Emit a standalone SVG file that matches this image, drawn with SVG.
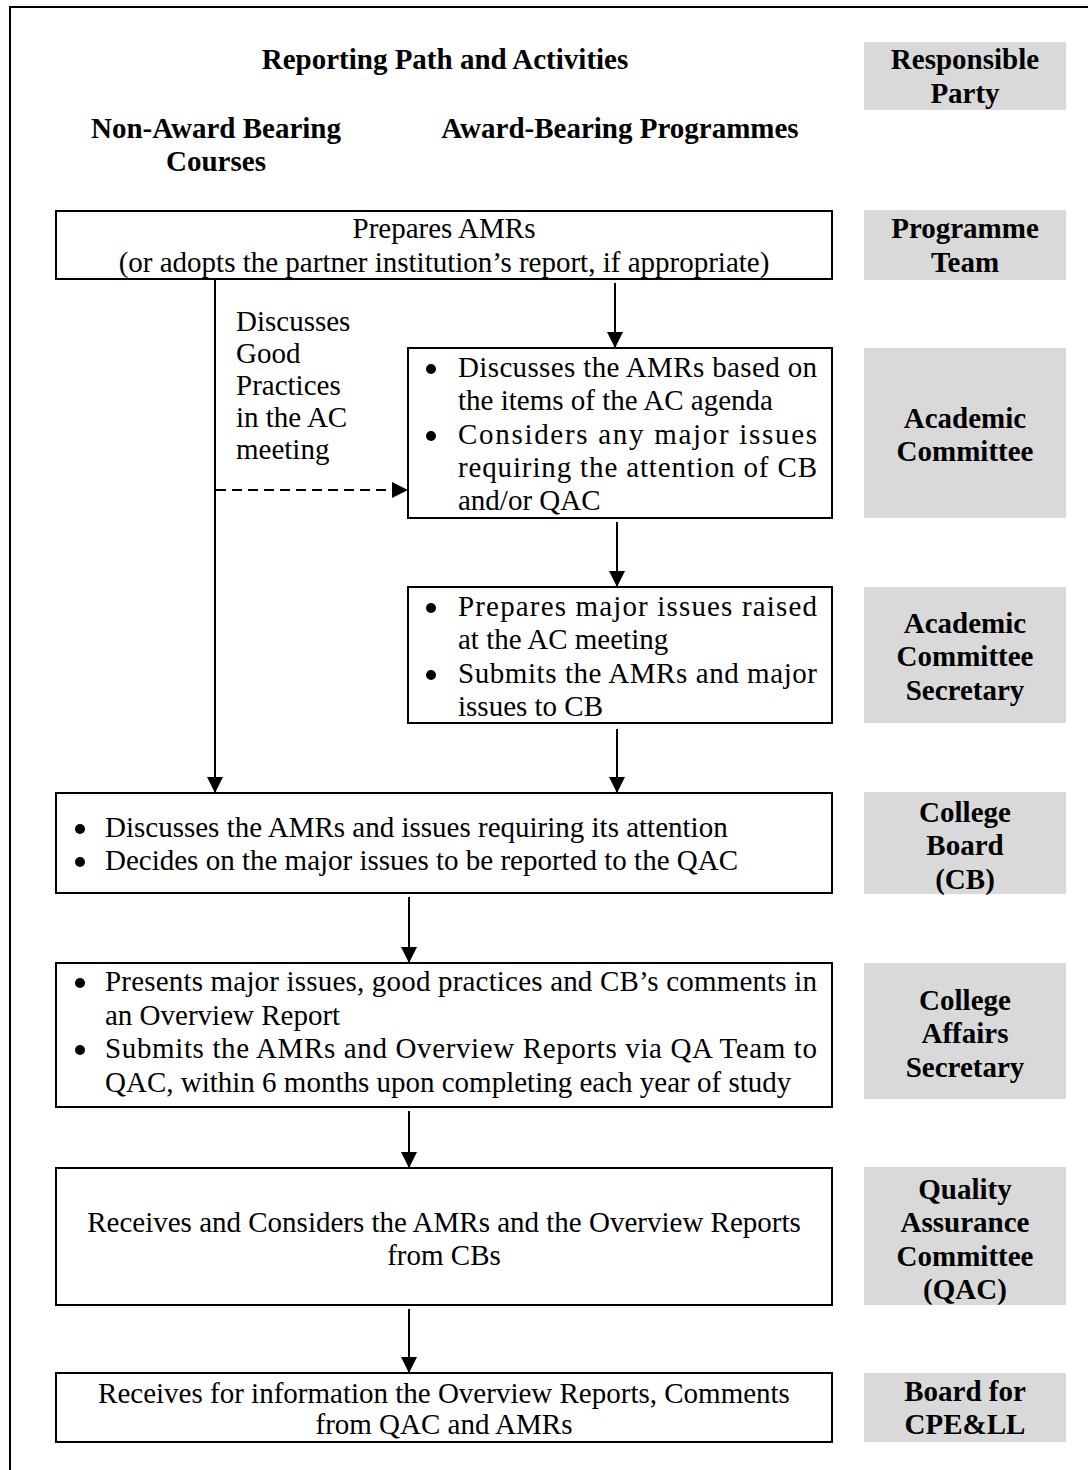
<svg xmlns="http://www.w3.org/2000/svg" width="1088" height="1470" viewBox="0 0 1088 1470">
  <defs>
    <marker id="arrow" markerUnits="userSpaceOnUse" markerWidth="16" markerHeight="16" viewBox="0 0 16 16" refX="16" refY="8" orient="auto">
      <path d="M0,0 L16,8 L0,16 Z" fill="#000"/>
    </marker>
    <style>
      .t { font-family: "Liberation Serif", "Times New Roman", serif; font-size: 29px; fill: #000; }
      .b { font-family: "Liberation Serif", "Times New Roman", serif; font-size: 29px; font-weight: bold; fill: #000; }
      .c { text-anchor: middle; }
      .box { fill: #fff; stroke: #000; stroke-width: 2; }
      .party { fill: #d9d9d9; stroke: none; }
      .conn { fill: none; stroke: #000; stroke-width: 2; }
      .dash { stroke-dasharray: 10 6; }
      .dot { fill: #000; }
    </style>
  </defs>

  <!-- outer frame (left and top edges) -->
  <path d="M10,1470 L10,7 L1088,7" fill="none" stroke="#000" stroke-width="2"/>

  <!-- column headings -->
  <g id="headings">
    <text class="b c" x="445" y="69">Reporting Path and Activities</text>
    <text class="b c" x="216" y="138">Non-Award Bearing</text>
    <text class="b c" x="216" y="171">Courses</text>
    <text class="b c" x="620" y="138">Award-Bearing Programmes</text>
  </g>

  <!-- responsible party column -->
  <g id="party-header">
    <rect class="party" x="864" y="42" width="202" height="68"/>
    <text class="b c" x="965" y="69">Responsible</text>
    <text class="b c" x="965" y="103">Party</text>
  </g>
  <g id="party-programme-team">
    <rect class="party" x="864" y="210" width="202" height="70"/>
    <text class="b c" x="965" y="238">Programme</text>
    <text class="b c" x="965" y="272">Team</text>
  </g>
  <g id="party-academic-committee">
    <rect class="party" x="864" y="348" width="202" height="170"/>
    <text class="b c" x="965" y="428">Academic</text>
    <text class="b c" x="965" y="461">Committee</text>
  </g>
  <g id="party-ac-secretary">
    <rect class="party" x="864" y="587" width="202" height="136"/>
    <text class="b c" x="965" y="633">Academic</text>
    <text class="b c" x="965" y="666">Committee</text>
    <text class="b c" x="965" y="700">Secretary</text>
  </g>
  <g id="party-college-board">
    <rect class="party" x="864" y="792" width="202" height="102"/>
    <text class="b c" x="965" y="822">College</text>
    <text class="b c" x="965" y="855">Board</text>
    <text class="b c" x="965" y="889">(CB)</text>
  </g>
  <g id="party-college-affairs">
    <rect class="party" x="864" y="963" width="202" height="136"/>
    <text class="b c" x="965" y="1010">College</text>
    <text class="b c" x="965" y="1043">Affairs</text>
    <text class="b c" x="965" y="1077">Secretary</text>
  </g>
  <g id="party-qac">
    <rect class="party" x="864" y="1167" width="202" height="138"/>
    <text class="b c" x="965" y="1199">Quality</text>
    <text class="b c" x="965" y="1232">Assurance</text>
    <text class="b c" x="965" y="1266">Committee</text>
    <text class="b c" x="965" y="1299">(QAC)</text>
  </g>
  <g id="party-board-cpell">
    <rect class="party" x="864" y="1373" width="202" height="69"/>
    <text class="b c" x="965" y="1401">Board for</text>
    <text class="b c" x="965" y="1434">CPE&amp;LL</text>
  </g>

  <!-- activity boxes -->
  <g id="prepares-amrs">
    <rect class="box" x="56" y="211" width="776" height="68"/>
    <text class="t c" x="444" y="238">Prepares AMRs</text>
    <text class="t c" x="444" y="272">(or adopts the partner institution’s report, if appropriate)</text>
  </g>

  <g id="good-practices-label">
    <text class="t" x="236" y="331">Discusses</text>
    <text class="t" x="236" y="363">Good</text>
    <text class="t" x="236" y="395">Practices</text>
    <text class="t" x="236" y="427">in the AC</text>
    <text class="t" x="236" y="459">meeting</text>
  </g>

  <g id="academic-committee">
    <rect class="box" x="408" y="348" width="424" height="170"/>
    <circle class="dot" cx="431" cy="369" r="5"/>
    <text class="t" x="458" y="377" textLength="359" lengthAdjust="spacing">Discusses the AMRs based on</text>
    <text class="t" x="458" y="410">the items of the AC agenda</text>
    <circle class="dot" cx="431" cy="436" r="5"/>
    <text class="t" x="458" y="444" textLength="359" lengthAdjust="spacing">Considers any major issues</text>
    <text class="t" x="458" y="477" textLength="359" lengthAdjust="spacing">requiring the attention of CB</text>
    <text class="t" x="458" y="510">and/or QAC</text>
  </g>

  <g id="ac-secretary">
    <rect class="box" x="408" y="587" width="424" height="136"/>
    <circle class="dot" cx="431" cy="608" r="5"/>
    <text class="t" x="458" y="616" textLength="359" lengthAdjust="spacing">Prepares major issues raised</text>
    <text class="t" x="458" y="649">at the AC meeting</text>
    <circle class="dot" cx="431" cy="675" r="5"/>
    <text class="t" x="458" y="683" textLength="359" lengthAdjust="spacing">Submits the AMRs and major</text>
    <text class="t" x="458" y="716">issues to CB</text>
  </g>

  <g id="college-board">
    <rect class="box" x="56" y="793" width="776" height="100"/>
    <circle class="dot" cx="80" cy="829" r="5"/>
    <text class="t" x="105" y="837">Discusses the AMRs and issues requiring its attention</text>
    <circle class="dot" cx="80" cy="862" r="5"/>
    <text class="t" x="105" y="870">Decides on the major issues to be reported to the QAC</text>
  </g>

  <g id="college-affairs">
    <rect class="box" x="56" y="963" width="776" height="144"/>
    <circle class="dot" cx="80" cy="983" r="5"/>
    <text class="t" x="105" y="991" textLength="712" lengthAdjust="spacing">Presents major issues, good practices and CB’s comments in</text>
    <text class="t" x="105" y="1025">an Overview Report</text>
    <circle class="dot" cx="80" cy="1050" r="5"/>
    <text class="t" x="105" y="1058" textLength="712" lengthAdjust="spacing">Submits the AMRs and Overview Reports via QA Team to</text>
    <text class="t" x="105" y="1092">QAC, within 6 months upon completing each year of study</text>
  </g>

  <g id="qac">
    <rect class="box" x="56" y="1168" width="776" height="137"/>
    <text class="t c" x="444" y="1232">Receives and Considers the AMRs and the Overview Reports</text>
    <text class="t c" x="444" y="1265">from CBs</text>
  </g>

  <g id="board-cpell">
    <rect class="box" x="56" y="1373" width="776" height="69"/>
    <text class="t c" x="444" y="1403">Receives for information the Overview Reports, Comments</text>
    <text class="t c" x="444" y="1434">from QAC and AMRs</text>
  </g>

  <!-- connectors -->
  <g id="connectors">
    <line class="conn" x1="215" y1="279" x2="215" y2="793" marker-end="url(#arrow)"/>
    <line class="conn dash" x1="216" y1="490" x2="408" y2="490" marker-end="url(#arrow)"/>
    <line class="conn" x1="615" y1="283" x2="615" y2="348" marker-end="url(#arrow)"/>
    <line class="conn" x1="617" y1="522" x2="617" y2="587" marker-end="url(#arrow)"/>
    <line class="conn" x1="617" y1="729" x2="617" y2="793" marker-end="url(#arrow)"/>
    <line class="conn" x1="409" y1="897" x2="409" y2="963" marker-end="url(#arrow)"/>
    <line class="conn" x1="409" y1="1111" x2="409" y2="1168" marker-end="url(#arrow)"/>
    <line class="conn" x1="409" y1="1309" x2="409" y2="1373" marker-end="url(#arrow)"/>
  </g>
</svg>
